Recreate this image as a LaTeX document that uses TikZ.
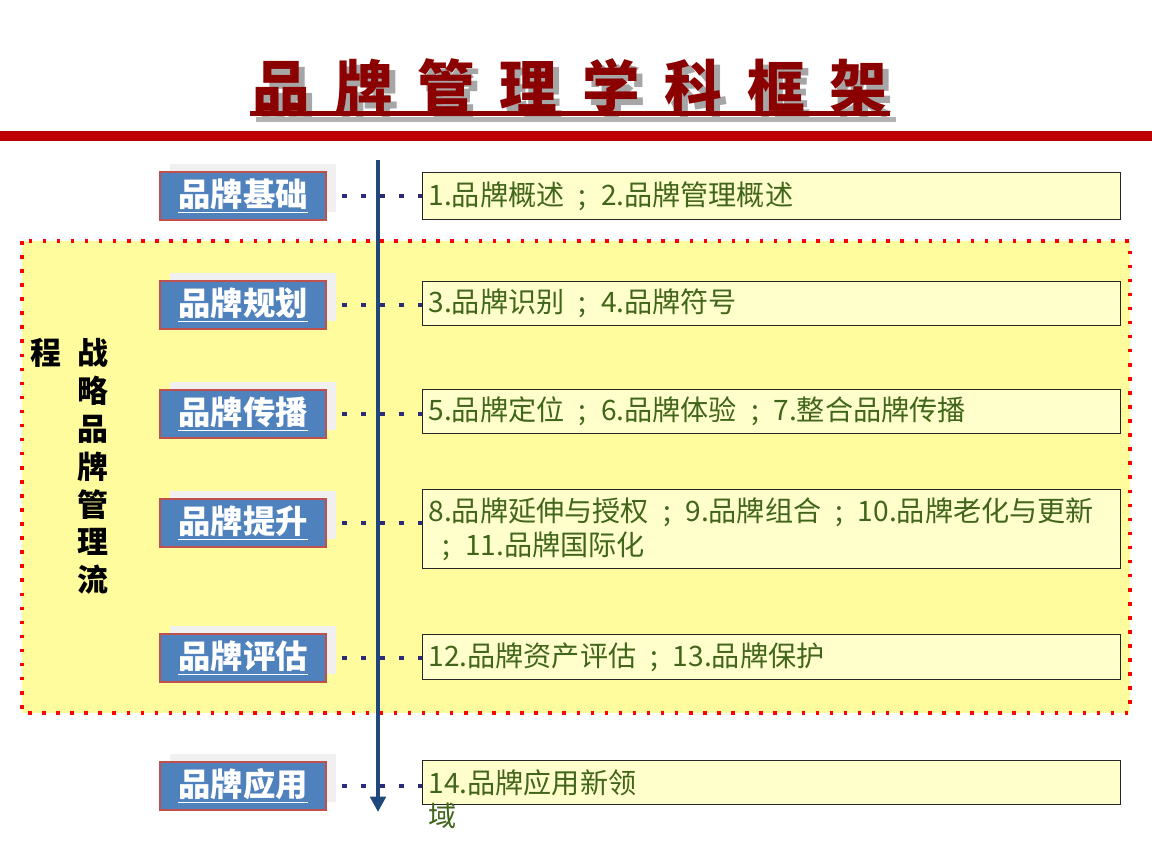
\documentclass[tikz,border=0pt]{standalone}
\usepackage{fontspec}
\setmainfont{Noto Sans CJK SC}
\usepackage{xcolor}
\usetikzlibrary{arrows.meta, positioning, calc}
\definecolor{titlered}{HTML}{8B0000}
\definecolor{barred}{HTML}{C00000}
\definecolor{stageblue}{HTML}{4F81BD}
\definecolor{stageedge}{HTML}{C0504D}
\definecolor{topicfill}{HTML}{FFFFCC}
\definecolor{topicgreen}{HTML}{41651A}
\definecolor{zonefill}{HTML}{FFFC9E}
\definecolor{linkblue}{HTML}{2B2B7A}
\definecolor{axisblue}{HTML}{1F497D}
\newcommand{\semi}{\makebox[1.3em]{;}}

\begin{document}
\begin{tikzpicture}[x=0.025cm, y=-0.025cm,
  stage/.style={draw=stageedge, line width=1.2pt, fill=stageblue, minimum width=4.15cm, minimum height=1.2cm, inner sep=0pt, text=white, font=\fontsize{23}{24}\selectfont\bfseries},
  backing/.style={fill=black!6, minimum width=4.15cm, minimum height=1.2cm, inner sep=0pt},
  topic/.style={draw=black!85, line width=0.8pt, fill=topicfill, anchor=north west, inner xsep=0.15cm, inner ysep=0pt, text width=17.15cm, align=left, text=topicgreen, font=\fontsize{20}{24}\selectfont},
  link/.style={draw=linkblue, line width=3.5pt, dash pattern=on 3.5pt off 10pt},
  zone/.style={draw=red, fill=zonefill, line width=2.5pt, dash pattern=on 2.5pt off 7.5pt},
]
\fill[white] (0,0) rectangle (1152,864);
\useasboundingbox (0,0) rectangle (1152,864);

% Title
\node[text=black!35, font=\fontsize{41}{44}\selectfont\bfseries\addfontfeature{LetterSpace=43}] at (576,92) {品牌管理学科框架};
\fill[black!30] (256,117) rectangle (896,122);
\node[text=titlered, font=\fontsize{41}{44}\selectfont\bfseries\addfontfeature{LetterSpace=43}] (title) at (570,86) {品牌管理学科框架};
\fill[titlered] (250,111) rectangle (890,116);
\fill[barred] (0,131) rectangle (1152,141);

% Strategic zone
\draw[zone] (22,241) rectangle (1130,713);
\node[anchor=north, align=center, font=\fontsize{22}{27}\selectfont\bfseries] (zonetxt) at (93,333) {战\\略\\品\\牌\\管\\理\\流};
\node[anchor=north, font=\fontsize{22}{27}\selectfont\bfseries] (zonetxt2) at (46,333) {程};

% Stages
\foreach \i/\y/\name in {1/196/品牌基础, 2/305/品牌规划, 3/414/品牌传播, 4/523/品牌提升, 5/658/品牌评估, 6/786/品牌应用} {
  \node[backing] (b\i) at (253,\y-8) {};
  \node[stage] (s\i) at (243,\y) {\underline{\name}};
}

% Axis
\coordinate (axtop) at (378,160);
\coordinate (axend) at (378,812);
\draw[axisblue, line width=3.2pt, -{Triangle[width=11pt,length=11pt]}] (axtop) -- (axend);

% Topics
\foreach \i/\top/\h/\txt in {
  1/172/1.175/{1.品牌概述\semi 2.品牌管理概述},
  2/281/1.1/{3.品牌识别\semi 4.品牌符号},
  3/389/1.1/{5.品牌定位\semi 6.品牌体验\semi 7.整合品牌传播},
  4/489/1.975/{8.品牌延伸与授权\semi 9.品牌组合\semi 10.品牌老化与更新\\\semi 11.品牌国际化},
  5/634/1.125/{12.品牌资产评估\semi 13.品牌保护},
  6/760/1.1/{14.品牌应用新领}} {
  \node[topic, minimum height=\h cm] (t\i) at (422,\top) {\txt};
}
\node[anchor=north west, inner sep=0pt, text=topicgreen, font=\fontsize{20}{24}\selectfont] (t6more) at (428,803) {域};

% Links
\foreach \i in {1,...,6} {
  \draw[link] ($(s\i.east)+(15,0)$) -- (s\i.east -| t\i.west);
}
\end{tikzpicture}
\end{document}
